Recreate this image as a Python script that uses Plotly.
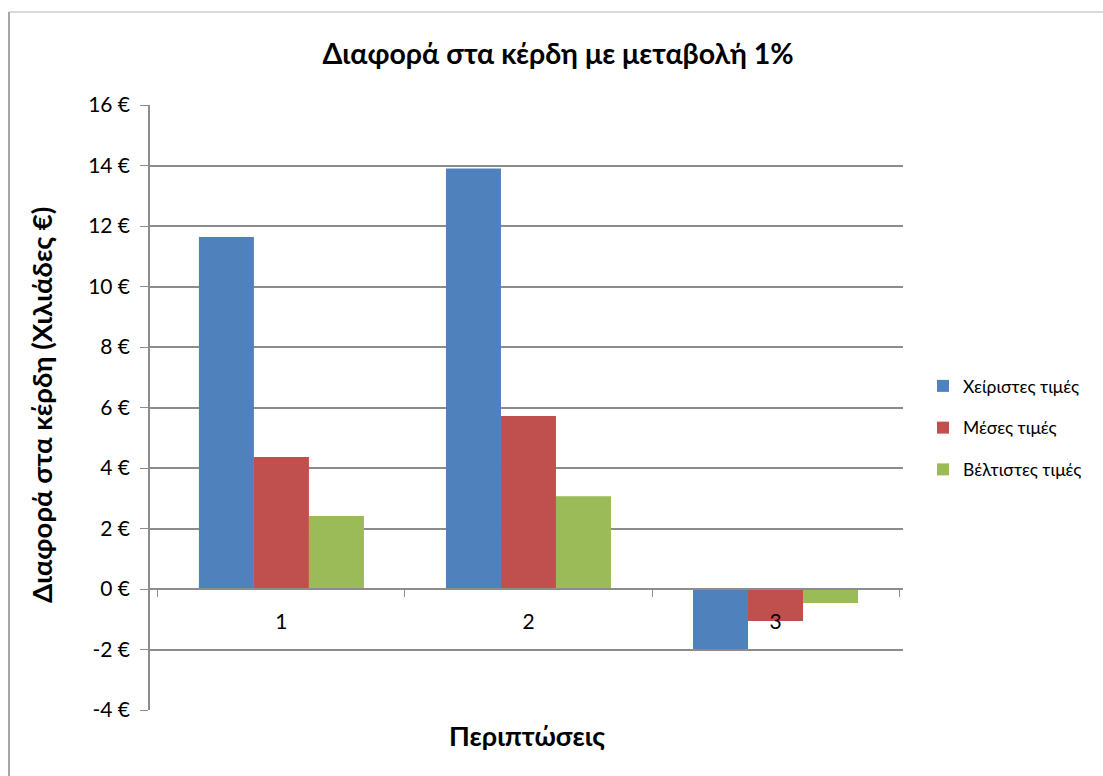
import plotly.graph_objects as go

# Cases on the horizontal axis
categories = ["1", "2", "3"]

# Profit difference (thousands of €) for a 1% change
series_names = ["Χείριστες τιμές", "Μέσες τιμές", "Βέλτιστες τιμές"]
worst = [11.64, 13.90, -1.98]
average = [4.36, 5.72, -1.06]
best = [2.41, 3.07, -0.46]

y_ticks = [-4, -2, 0, 2, 4, 6, 8, 10, 12, 14, 16]
y_tick_labels = [f"{v} €" for v in y_ticks]

colors = ["#4F81BD", "#C0504D", "#9BBB59"]
font_family = "Lato, Carlito, Calibri, sans-serif"

fig = go.Figure()
for name, values, color in zip(series_names, [worst, average, best], colors):
    fig.add_trace(go.Bar(
        x=categories, y=values, name=name, legendgroup=name,
        marker=dict(color=color, line=dict(width=0)),
    ))

y_min, y_max = -4, 16
zero_pos = (0 - y_min) / (y_max - y_min)

L, R, T, B = 150, 200, 105, 66
PW = 1103 - L - R
PH = 776 - T - B


def px_x(px):
    return (px - L) / PW


def px_y(py):
    return (776 - B - py) / PH


fig.update_layout(
    width=1103, height=776,
    margin=dict(l=L, r=R, t=T, b=B, autoexpand=False),
    paper_bgcolor="white", plot_bgcolor="white",
    barmode="group", bargap=0.332, bargroupgap=0,
    font=dict(family=font_family, color="#000000"),
    title=dict(
        text="<b>Διαφορά στα κέρδη με μεταβολή 1%</b>",
        x=0.506, xanchor="center", y=1 - 54 / 776, yanchor="middle",
        font=dict(size=28.5, family=font_family),
    ),
    xaxis=dict(
        type="category", range=[-0.532, 2.516],
        anchor="free", position=zero_pos,
        showline=True, linecolor="#8c8c8c", linewidth=1.5,
        ticks="outside", tickson="boundaries", ticklen=7, tickcolor="#8c8c8c",
        showgrid=False, tickfont=dict(size=21), ticklabelstandoff=14,
    ),
    yaxis=dict(
        range=[y_min, y_max], tickvals=y_ticks, ticktext=y_tick_labels,
        showline=True, linecolor="#8c8c8c", linewidth=1.5,
        ticks="outside", ticklen=8, tickcolor="#8c8c8c",
        showgrid=True, gridcolor="#8c8c8c", gridwidth=1.5,
        zeroline=False, tickfont=dict(size=21), ticklabelstandoff=6,
    ),
    legend=dict(
        x=px_x(923), xanchor="left", y=px_y(428), yanchor="middle",
        font=dict(size=17.5), tracegroupgap=16, traceorder="grouped",
        itemwidth=30,
    ),
    showlegend=True,
)

# Axis titles
fig.add_annotation(
    text="<b>Διαφορά στα κέρδη (Χιλιάδες €)</b>", textangle=-90,
    xref="paper", yref="paper", x=px_x(41), y=px_y(405),
    showarrow=False, font=dict(size=27.5, family=font_family),
    xanchor="center", yanchor="middle",
)
fig.add_annotation(
    text="<b>Περιπτώσεις</b>",
    xref="paper", yref="paper", x=px_x(527), y=px_y(735),
    showarrow=False, font=dict(size=27, family=font_family),
    xanchor="center", yanchor="middle",
)

# Chart frame (top and left edges)
fig.add_shape(type="line", xref="paper", yref="paper",
              x0=px_x(9), x1=px_x(1103), y0=px_y(12), y1=px_y(12),
              line=dict(color="#d9d9d9", width=2))
fig.add_shape(type="line", xref="paper", yref="paper",
              x0=px_x(9), x1=px_x(9), y0=px_y(12), y1=px_y(776),
              line=dict(color="#a6a6a6", width=2))

fig.write_html("out.html")
